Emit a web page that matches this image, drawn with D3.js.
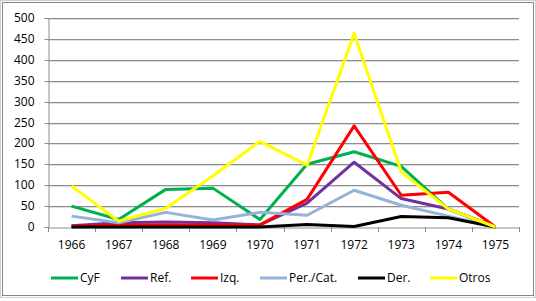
<!DOCTYPE html>
<html>
<head>
<meta charset="utf-8">
<script src="https://cdn.jsdelivr.net/npm/d3@7"></script>
<style>
body { margin: 0; background: #fff; }
text { font-family: "Open Sans", "Noto Sans", sans-serif; font-size: 12px; fill: #000; }
</style>
</head>
<body>
<svg class="chart"></svg>
<script>
const years = ['1966','1967','1968','1969','1970','1971','1972','1973','1974','1975'];
const yTicks = [0,50,100,150,200,250,300,350,400,450,500];

const cyf   = [50, 18, 90, 93, 18, 150, 180, 145, 43, 0];
const ref   = [3, 10, 12, 10, 5, 57, 155, 68, 43, 0];
const izq   = [2, 5, 5, 5, 5, 66, 242, 76, 83, 0];
const per   = [26, 10, 35, 17, 35, 28, 88, 52, 26, 0];
const der   = [0, 0, 0, 0, 0, 6, 1, 25, 22, 0];
const otros = [98, 14, 45, 122, 205, 148, 463, 132, 43, 0];

const series = [
  {name:'CyF', values:cyf, color:'#00B050'},
  {name:'Ref.', values:ref, color:'#7030A0'},
  {name:'Izq.', values:izq, color:'#FF0000'},
  {name:'Per./Cat.', values:per, color:'#95B3D7'},
  {name:'Der.', values:der, color:'#000000'},
  {name:'Otros', values:otros, color:'#FFFF00'}
];
const legendX = [51, 121, 191, 260, 358, 430];

const width = 536, height = 301;
const svg = d3.select('.chart').attr('width', width).attr('height', height);

// frame
svg.append('rect').attr('x',0.5).attr('y',0.5).attr('width',535).attr('height',297)
  .attr('fill','none').attr('stroke','#d0d0d0');
svg.append('rect').attr('x',2.5).attr('y',2.5).attr('width',531).attr('height',293)
  .attr('fill','#fff').attr('stroke','#858585');

const pLeft = 48, pRight = 519, pTop = 18, pBottom = 227;
const x = d3.scaleBand().domain(years).range([pLeft, pRight]);
const y = d3.scaleLinear().domain([0, 500]).range([pBottom, pTop]);

// gridlines
svg.append('g').selectAll('line').data(yTicks.slice(1)).join('line')
  .attr('x1', pLeft).attr('x2', pRight)
  .attr('y1', d => Math.round(y(d)) + 0.5).attr('y2', d => Math.round(y(d)) + 0.5)
  .attr('stroke', '#8c8c8c');
svg.append('g').selectAll('line').data(yTicks.slice(1)).join('line')
  .attr('x1', pLeft).attr('x2', pRight)
  .attr('y1', d => Math.round(y(d)) + 1.5).attr('y2', d => Math.round(y(d)) + 1.5)
  .attr('stroke', '#dedede');

// y axis
const yAxis = svg.append('g').attr('transform', `translate(${pLeft + 0.5},0)`)
  .call(d3.axisLeft(y).tickValues(yTicks).tickSize(4).tickPadding(10));
yAxis.select('.domain').attr('stroke', '#8c8c8c');
yAxis.selectAll('.tick line').attr('stroke', '#8c8c8c');
yAxis.selectAll('.tick').attr('transform', d => `translate(0,${Math.round(y(d)) + 0.5})`);
yAxis.selectAll('text').attr('font-family', null).attr('font-size', null);

// x axis
const xAxis = svg.append('g').attr('transform', `translate(0,${pBottom + 0.5})`)
  .call(d3.axisBottom(x).tickSize(0).tickPadding(13));
xAxis.select('.domain').attr('stroke', '#8c8c8c');
xAxis.selectAll('text').attr('font-family', null).attr('font-size', null);
svg.append('g').selectAll('line').data(years.concat(['end'])).join('line')
  .attr('x1', (d, i) => Math.round(pLeft + i * x.bandwidth()) + 0.5)
  .attr('x2', (d, i) => Math.round(pLeft + i * x.bandwidth()) + 0.5)
  .attr('y1', pBottom).attr('y2', pBottom + 5)
  .attr('stroke', '#8c8c8c');

// lines
const line = d3.line()
  .x((d, i) => x(years[i]) + x.bandwidth() / 2)
  .y(d => y(d));
svg.append('g').selectAll('path').data(series).join('path')
  .attr('d', d => line(d.values))
  .attr('fill', 'none')
  .attr('stroke', d => d.color)
  .attr('stroke-width', 3)
  .attr('stroke-linejoin', 'round');

// legend
const lg = svg.append('g').selectAll('g').data(series).join('g')
  .attr('transform', (d, i) => `translate(${legendX[i]},278)`);
lg.append('line').attr('x1', 0).attr('x2', 27).attr('stroke', d => d.color).attr('stroke-width', 3);
lg.append('text').attr('x', 29).attr('dy', '0.35em').text(d => d.name);
</script>
</body>
</html>
